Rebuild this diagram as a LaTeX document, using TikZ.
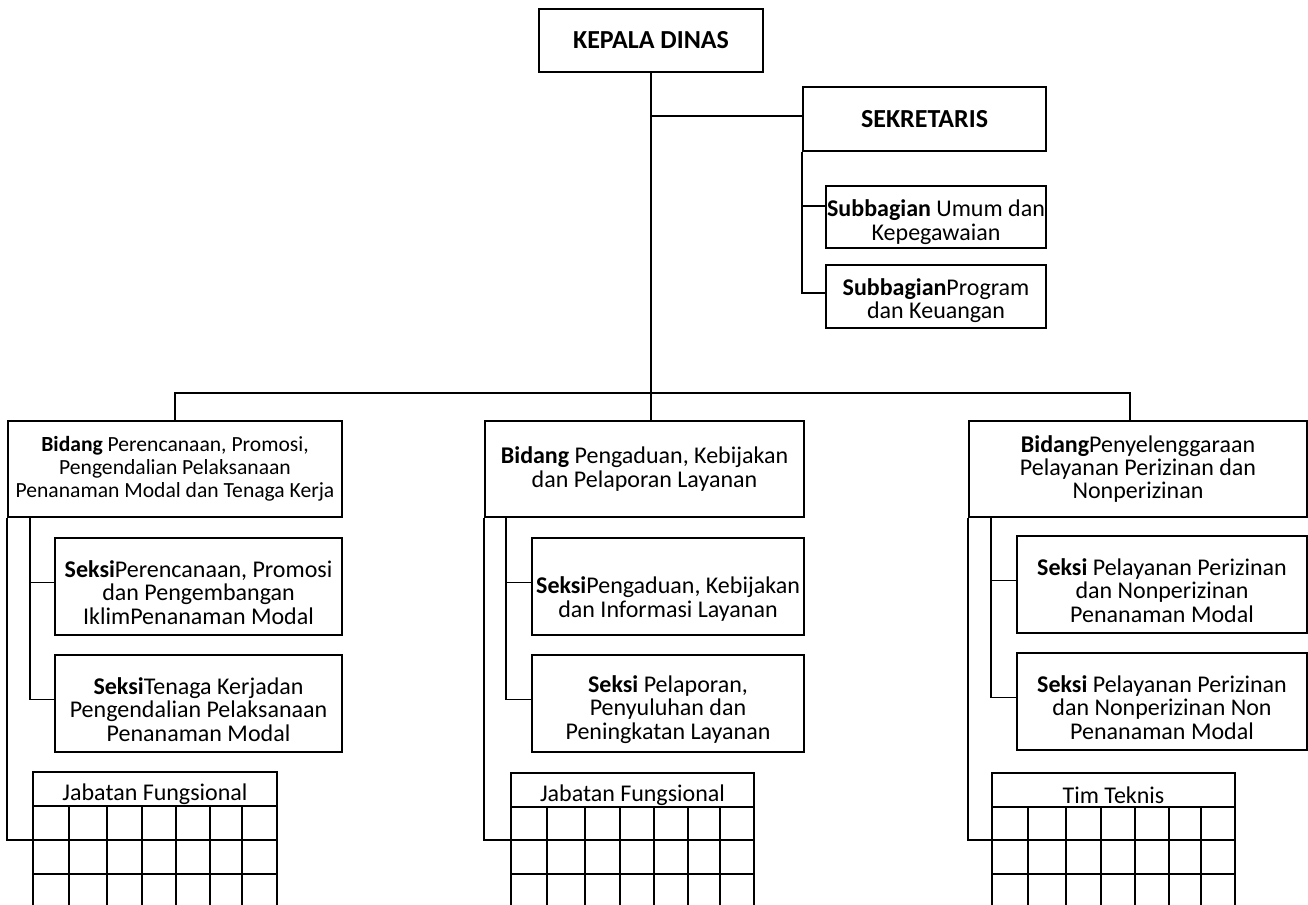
\documentclass[tikz,border=0pt]{standalone}
\usepackage{fontspec}
\setmainfont{Carlito}

\begin{document}
\begin{tikzpicture}[x=0.75pt,y=-0.75pt,line width=1.4pt,
    unit/.style 2 args={draw, align=center, inner sep=0pt,
      minimum width=#1*0.75pt, minimum height=#2*0.75pt,
      font=\fontsize{18}{17.6}\selectfont},
    head/.style={font=\fontsize{19.5}{20}\selectfont\bfseries}]
    \useasboundingbox (0,0) rectangle (1308,905);

    % Top
    \node[unit={224}{63}, head] (kd) at (651,40.5) {KEPALA DINAS};
    \node[unit={243}{64}, head] (sek) at (924.5,119) {SEKRETARIS};
    \node[unit={220}{62}] (sub1) at (936,217) {\rule{0pt}{20pt}\textbf{Subbagian} Umum dan\\Kepegawaian};
    \node[unit={220}{63}] (sub2) at (936,296.5) {\rule{0pt}{19pt}\textbf{Subbagian}Program\\dan Keuangan};

    % Bidang
    \node[unit={334}{96}, font=\fontsize{16.2}{17.4}\selectfont] (b1) at (175,469) {\textbf{Bidang} Perencanaan, Promosi,\\Pengendalian Pelaksanaan\\Penanaman Modal dan Tenaga Kerja};
    \node[unit={319}{96}] (b2) at (644.5,469) {\textbf{Bidang} Pengaduan, Kebijakan\\dan Pelaporan Layanan};
    \node[unit={338}{96}] (b3) at (1138,469) {\textbf{Bidang}Penyelenggaraan\\Pelayanan Perizinan dan\\Nonperizinan};

    % Seksi
    \node[unit={287}{97}] (s11) at (198.5,586.5) {\rule{0pt}{21.5pt}\textbf{Seksi}Perencanaan, Promosi\\dan Pengembangan\\IklimPenanaman Modal};
    \node[unit={287}{97}] (s12) at (198.5,703.5) {\rule{0pt}{21.5pt}\textbf{Seksi}Tenaga Kerjadan\\Pengendalian Pelaksanaan\\Penanaman Modal};
    \node[unit={272}{97}] (s21) at (668,586.5) {\rule{0pt}{31.5pt}\textbf{Seksi}Pengaduan, Kebijakan\\dan Informasi Layanan};
    \node[unit={272}{97}] (s22) at (668,703.5) {\rule{0pt}{21.5pt}\textbf{Seksi} Pelaporan,\\Penyuluhan dan\\Peningkatan Layanan};
    \node[unit={290}{97}] (s31) at (1162,584.5) {\rule{0pt}{21.5pt}\textbf{Seksi} Pelayanan Perizinan\\dan Nonperizinan\\Penanaman Modal};
    \node[unit={290}{97}] (s32) at (1162,701.5) {\rule{0pt}{21.5pt}\textbf{Seksi} Pelayanan Perizinan\\dan Nonperizinan Non\\Penanaman Modal};

    % Tables
    \node[unit={244}{34}] (t1) at (155,789) {\rule{0pt}{21pt}Jabatan Fungsional};
    \node[unit={243}{34}] (t2) at (632.5,790) {\rule{0pt}{21pt}Jabatan Fungsional};
    \node[unit={243}{34}] (t3) at (1113.5,790) {\rule{0pt}{20pt}Tim Teknis};
    \coordinate (g1) at (33,840);
    \coordinate (g2) at (511,840);
    \coordinate (g3) at (992,840);
    \foreach \x/\w/\y in {33/244/806, 511/243/807, 992/243/807} {
        \foreach \dx in {0,36,74,109,143,177,209}
            \draw (\x+\dx,\y) -- (\x+\dx,910);
        \draw (\x+\w,\y) -- (\x+\w,910);
        \draw (\x,840) -- (\x+\w,840);
        \draw (\x,874) -- (\x+\w,874);
    }

    % Lines
    \coordinate (bus) at (651,393);
    \draw (kd.south) -- (kd.south |- b2.north);
    \draw (b1.north) |- (bus) -| ([xshift=-6pt]b3.north);
    \draw (kd.south |- sek.west) ++(0,-3) -- ([yshift=2.25pt]sek.west);
    \draw (sek.south west) |- ([yshift=2.5pt]sub2.west);
    \draw ([yshift=8.25pt]sek.south west |- sub1.west) -- ([yshift=8.25pt]sub1.west);

    \draw ([xshift=23*0.75pt]b1.south west) |- ([yshift=3pt]s12.west);
    \draw ([xshift=23*0.75pt,yshift=3pt]b1.south west |- s11.west) -- ([yshift=3pt]s11.west);
    \draw ([xshift=22*0.75pt]b2.south west) |- ([yshift=3pt]s22.west);
    \draw ([xshift=22*0.75pt,yshift=3pt]b2.south west |- s21.west) -- ([yshift=3pt]s21.west);
    \draw ([xshift=23*0.75pt]b3.south west) |- ([yshift=3pt]s32.west);
    \draw ([xshift=23*0.75pt,yshift=3pt]b3.south west |- s31.west) -- ([yshift=3pt]s31.west);

    \draw (b1.south west) |- (g1);
    \draw (b2.south west) |- (g2);
    \draw (b3.south west) |- (g3);
\end{tikzpicture}
\end{document}
